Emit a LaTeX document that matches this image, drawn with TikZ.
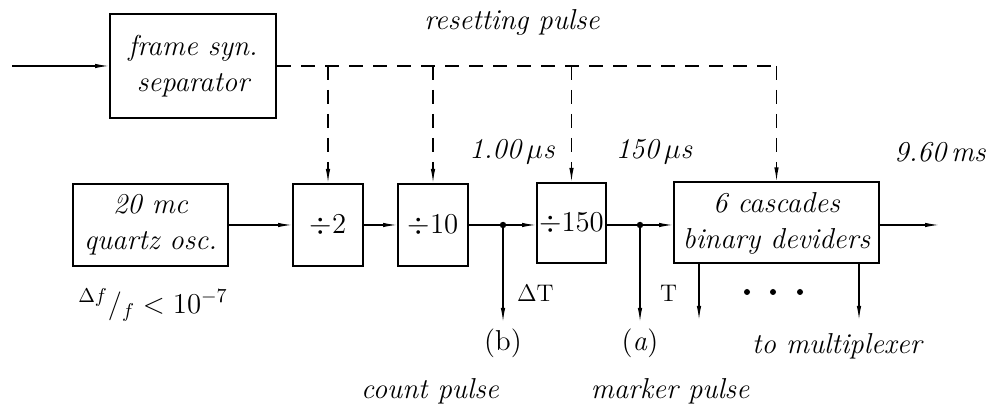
\documentclass[tikz,border=0pt]{standalone}
\usepackage{amsmath}
\usepackage{amssymb}
\usetikzlibrary{arrows.meta}

\begin{document}
\begin{tikzpicture}[x=0.5pt, y=-0.5pt,
    blk/.style={draw, line width=1pt, align=center, font=\Large\itshape, inner sep=1pt},
    arr/.style={-{Latex[length=7pt,width=2.2pt]}, line width=0.6pt},
    rst/.style={arr, dashed, dash pattern=on 7pt off 5pt},
    lbl/.style={font=\Large\itshape}]
            \useasboundingbox (0,0) rectangle (991,415);
            % top row
            \node[blk, minimum width=83pt, minimum height=52pt] (frame) at (193,66) {frame syn.\\separator};
            \coordinate (in) at (12,66);
            \draw[arr] (in) -- (frame);
            % bottom row
            \node[blk, minimum width=77.5pt, minimum height=41pt] (osc) at (150.5,225) {20 mc\\quartz osc.};
            \node[blk, minimum width=35pt, minimum height=41pt] (div2) at (328,225) {$\div 2$};
            \node[blk, minimum width=35pt, minimum height=41pt] (div10) at (433,225) {$\div 10$};
            \node[blk, minimum width=34.5pt, minimum height=40pt] (div150) at (571.5,223) {$\div 150$};
            \node[blk, minimum width=102.5pt, minimum height=40.5pt] (casc) at (776.5,223) {6 cascades\\binary deviders};
            \coordinate (jb) at (503,225);
            \coordinate (ja) at (640,225);
            \coordinate (out) at (939,225);
            \draw[arr] (osc) -- (div2);
            \draw[arr] (div2) -- (div10);
            \draw[arr] (div10) -- (jb) -- (div150.west |- jb);
            \draw[arr] (div150.east |- ja) -- (ja) -- (casc.west |- ja);
            \draw[arr] (casc.east |- out) -- (out);
            \fill (jb) circle (1.6pt);
            \fill (ja) circle (1.6pt);
            % resetting pulse
            \draw[dashed, dash pattern=on 7pt off 5pt, line width=0.6pt] (frame.east) -- (casc.north |- frame.east);
            \draw[rst] (div2.north |- frame.east) -- (div2.north);
            \draw[rst] (div10.north |- frame.east) -- (div10.north);
            \draw[rst] (div150.north |- frame.east) -- (div150.north);
            \draw[rst] (casc.north |- frame.east) -- (casc.north);
            % outputs
            \coordinate (b) at (503,322);
            \coordinate (a) at (640,322);
            \coordinate (m1) at (699,320);
            \coordinate (m2) at (859,320);
            \draw[arr] (jb) -- (b);
            \draw[arr] (ja) -- (a);
            \draw[arr] (casc.south -| m1) -- (m1);
            \draw[arr] (casc.south -| m2) -- (m2);
            \node[anchor=west] (dT) at (510,293) {\large$\Delta$T};
            \node[anchor=west] (T) at (653,293) {\large T};
            \foreach \x in {747,773,800}
                \fill (\x,292) circle (1.5pt);
            \node[below=0pt] (lb) at (b) {\Large(b)};
            \node[below=0pt] (la) at (a) {\Large(\textit{a})};
            % labels
            \node[lbl] (reset) at (512,22) {resetting pulse};
            \node[lbl] (t1) at (512,152) {1.00\,$\mu$s};
            \node[lbl] (t2) at (654,152) {150\,$\mu$s};
            \node[lbl] (t3) at (940,152) {9.60\,ms};
            \node[lbl] (stab) at (153,305) {${}^{\Delta f}/_{f} < 10^{-7}$};
            \node[lbl] (mux) at (837,346) {to multiplexer};
            \node[lbl] (count) at (430,391) {count pulse};
            \node[lbl] (mark) at (670,391) {marker pulse};
        \end{tikzpicture}
\end{document}
